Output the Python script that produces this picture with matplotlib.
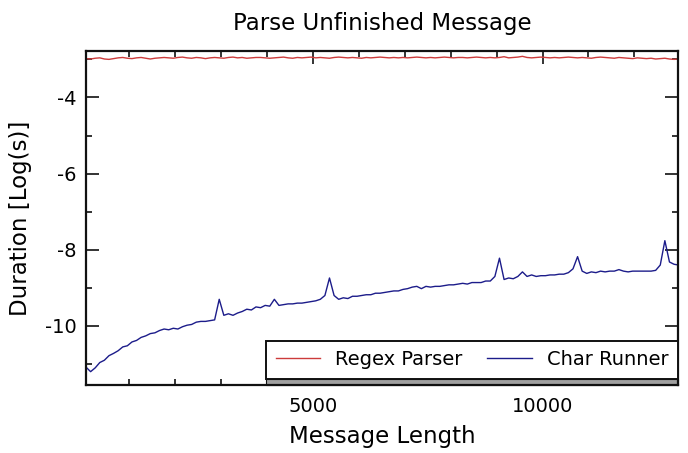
import numpy as np
import matplotlib
matplotlib.use("Agg")
import matplotlib.pyplot as plt
from matplotlib.ticker import MultipleLocator
from matplotlib.patches import Rectangle

plt.rcParams['font.family'] = ['DejaVu Sans']
plt.rcParams['axes.unicode_minus'] = False

title = "Parse Unfinished Message"
xlabel = "Message Length"
ylabel = "Duration [Log(s)]"
series_names = ["Regex Parser", "Char Runner"]

message_length = list(range(63, 12964, 100))

regex_parser = [
    -2.98, -2.99, -2.97, -2.96, -2.99, -3.00, -2.98, -2.96, -2.95, -2.97,
    -2.98, -2.96, -2.95, -2.97, -2.99, -2.97, -2.96, -2.95, -2.96, -2.97,
    -2.95, -2.94, -2.96, -2.97, -2.95, -2.96, -2.98, -2.96, -2.95, -2.96,
    -2.97, -2.95, -2.94, -2.96, -2.95, -2.97, -2.96, -2.95, -2.95, -2.96,
    -2.97, -2.96, -2.95, -2.94, -2.96, -2.97, -2.95, -2.96, -2.95, -2.94,
    -2.96, -2.95, -2.96, -2.97, -2.95, -2.94, -2.95, -2.96, -2.95, -2.96,
    -2.97, -2.95, -2.96, -2.95, -2.94, -2.95, -2.96, -2.95, -2.96, -2.95,
    -2.96, -2.95, -2.94, -2.95, -2.96, -2.95, -2.96, -2.95, -2.94, -2.95,
    -2.96, -2.95, -2.95, -2.96, -2.95, -2.94, -2.95, -2.96, -2.95, -2.96,
    -2.95, -2.93, -2.96, -2.95, -2.94, -2.92, -2.95, -2.96, -2.95, -2.94,
    -2.95, -2.96, -2.95, -2.96, -2.95, -2.94, -2.95, -2.96, -2.95, -2.96,
    -2.97, -2.95, -2.94, -2.95, -2.96, -2.97, -2.95, -2.96, -2.97, -2.98,
    -2.96, -2.97, -2.98, -2.97, -2.99, -2.98, -2.97, -2.99, -3.00, -2.99,
]

char_runner = [
    -11.08, -11.20, -11.10, -10.96, -10.90, -10.78, -10.72, -10.65, -10.55, -10.52,
    -10.42, -10.38, -10.30, -10.26, -10.20, -10.18, -10.12, -10.08, -10.10, -10.06,
    -10.08, -10.02, -9.98, -9.96, -9.90, -9.88, -9.88, -9.86, -9.84, -9.30,
    -9.72, -9.68, -9.72, -9.66, -9.62, -9.56, -9.58, -9.50, -9.52, -9.46,
    -9.48, -9.30, -9.46, -9.44, -9.42, -9.42, -9.40, -9.40, -9.38, -9.36,
    -9.34, -9.30, -9.20, -8.74, -9.20, -9.30, -9.26, -9.28, -9.22, -9.22,
    -9.20, -9.18, -9.18, -9.14, -9.14, -9.12, -9.10, -9.08, -9.08, -9.04,
    -9.02, -8.98, -8.96, -9.02, -8.96, -8.98, -8.96, -8.96, -8.94, -8.92,
    -8.92, -8.90, -8.88, -8.90, -8.86, -8.86, -8.86, -8.82, -8.82, -8.70,
    -8.22, -8.78, -8.74, -8.76, -8.70, -8.58, -8.70, -8.66, -8.70, -8.68,
    -8.68, -8.66, -8.66, -8.64, -8.64, -8.60, -8.50, -8.18, -8.56, -8.62,
    -8.58, -8.60, -8.56, -8.58, -8.56, -8.56, -8.52, -8.56, -8.58, -8.56,
    -8.56, -8.56, -8.56, -8.56, -8.54, -8.40, -7.76, -8.32, -8.38, -8.40,
]

W, H = 688, 453
fig = plt.figure(figsize=(W / 100, H / 100), dpi=100)
fig.subplots_adjust(left=86 / W, right=678 / W, top=1 - 51 / H, bottom=1 - 385 / H)
ax = fig.add_subplot(111)

ax.plot(message_length, regex_parser, color='#cc3b3b', lw=1.0, label=series_names[0])
ax.plot(message_length, char_runner, color='#1c1c8a', lw=1.0, label=series_names[1])

ax.set_xlim(63, 12949)
ax.set_ylim(-11.55, -2.78)

ax.xaxis.set_major_locator(MultipleLocator(5000))
ax.xaxis.set_minor_locator(MultipleLocator(1000))
ax.yaxis.set_major_locator(MultipleLocator(2))
ax.yaxis.set_minor_locator(MultipleLocator(1))

ax.tick_params(which='both', direction='in', top=True, right=True, width=1.2, color='#111111')
ax.tick_params(which='major', length=9.5)
ax.tick_params(which='minor', length=4.5)
ax.tick_params(axis='x', which='major', labelsize=14, pad=9)
ax.tick_params(axis='y', which='major', labelsize=14, pad=7)
for sp in ax.spines.values():
    sp.set_linewidth(1.6)
    sp.set_color('#111111')

ax.set_title(title, fontsize=16.5, pad=15)
ax.set_xlabel(xlabel, fontsize=16.5, labelpad=6)
ax.set_ylabel(ylabel, fontsize=16.5, labelpad=9)

leg = ax.legend(loc='lower left', bbox_to_anchor=(0.304, 0.018, 0.696, 0.12), mode='expand',
                ncol=2, fontsize=14, frameon=True, fancybox=False, borderaxespad=0,
                handlelength=2.3, handletextpad=0.75, columnspacing=0.8, borderpad=0.5)
leg.get_frame().set_edgecolor('#111111')
leg.get_frame().set_linewidth(1.4)
leg.get_frame().set_alpha(1)

ax.add_patch(Rectangle((0.304, 0.0), 0.696, 0.018, transform=ax.transAxes,
                       facecolor='#a0a0a0', edgecolor='#111111', lw=0.8, zorder=2, clip_on=False))

fig.savefig('out.png', dpi=100, facecolor='white')
